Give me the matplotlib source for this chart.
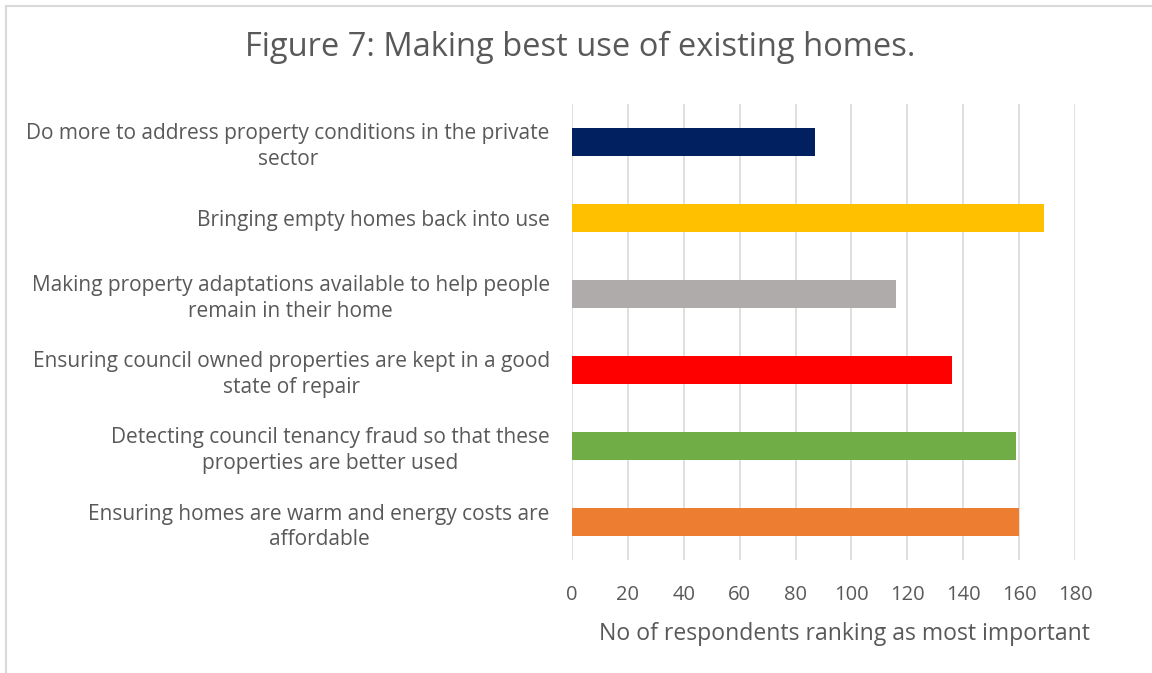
import matplotlib.pyplot as plt
from matplotlib.patches import Rectangle

plt.rcParams['font.family'] = ['Open Sans', 'DejaVu Sans']

# данные
labels = [
    "Do more to address property conditions in the private\nsector",
    "Bringing empty homes back into use",
    "Making property adaptations available to help people\nremain in their home",
    "Ensuring council owned properties are kept in a good\nstate of repair",
    "Detecting council tenancy fraud so that these\nproperties are better used",
    "Ensuring homes are warm and energy costs are\naffordable",
]
values = [87, 169, 116, 136, 159, 160]
colors = ["#002060", "#FFC000", "#AFABAB", "#FF0000", "#70AD47", "#ED7D31"]
xticks = list(range(0, 181, 20))

txt = "#595959"

fig = plt.figure(figsize=(11.52, 6.73), dpi=100)
ax = fig.add_axes([0.4965, 0.1679, 0.4367, 0.6776])

ypos = list(range(len(labels)))
ax.barh(ypos, values, height=0.36, color=colors, zorder=3)
ax.set_ylim(len(labels) - 0.5, -0.5)
ax.set_xlim(0, 180)
ax.set_xticks(xticks)
ax.set_yticks(ypos)
ax.set_yticklabels(labels, fontsize=15, color=txt, multialignment='center',
                   linespacing=1.3)
ax.tick_params(axis='y', length=0, pad=16)
ax.tick_params(axis='x', length=0, pad=18, labelsize=14.5, labelcolor=txt)
ax.grid(axis='x', color='#d9d9d9', linewidth=1.2, zorder=0)
for s in ax.spines.values():
    s.set_visible(False)
ax.set_xlabel("No of respondents ranking as most important", fontsize=16.6,
              color=txt, labelpad=11)
ax.xaxis.set_label_coords(0.541, -0.135)

fig.text(0.504, 0.93, "Figure 7: Making best use of existing homes.", fontsize=23.5,
         color=txt, ha='center', va='center')

# рамка
fig.patches.append(Rectangle((6 / 1152, -0.01), 1.1, 1.0 - 6 / 673 + 0.01,
                             transform=fig.transFigure, fill=False,
                             edgecolor='#d9d9d9', linewidth=1.5))

fig.savefig("out.png", dpi=100)
